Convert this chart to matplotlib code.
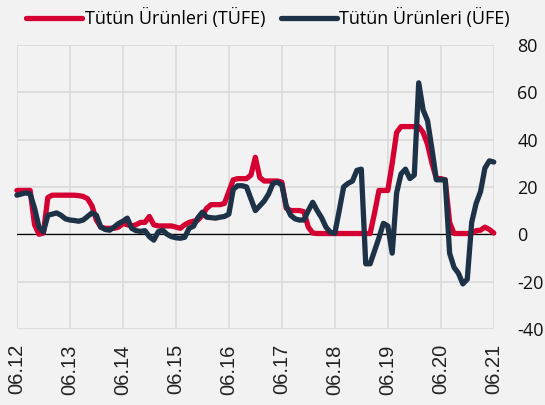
import numpy as np
import pandas as pd
import matplotlib
matplotlib.use('Agg')
import matplotlib.pyplot as plt

# monthly annual change, 06.2012 - 06.2021
tufe = [18.5, 18.5, 18.5, 18.5, 4, 0, 0.5, 15.5, 16.5, 16.5,
        16.5, 16.5, 16.5, 16.5, 16.3, 16, 15, 12, 6, 3,
        2.5, 2.5, 2.5, 3, 4.5, 4, 3.5, 4, 5, 5,
        7.5, 4, 3.5, 3.5, 3.5, 3.5, 3, 2.5, 4, 5,
        5.5, 6, 8, 11, 12.5, 12.5, 12.5, 13, 18, 23,
        23.5, 23.5, 23.5, 25, 32.5, 24, 22.5, 22.5, 22.5, 22.5,
        22, 11, 10, 10, 10, 9.5, 3, 0.5, 0.3, 0.3,
        0.3, 0.3, 0.3, 0.3, 0.3, 0.3, 0.3, 0.3, 0.3, 0.3,
        0.3, 9, 18.5, 18.5, 18.5, 30, 43, 45.5, 45.5, 45.5,
        45.5, 45.5, 43, 38, 30, 23.5, 23.5, 23, 5, 0.3,
        0.3, 0.3, 0.3, 0.3, 1.5, 1.7, 3, 2, 0.5]

ufe = [16.5, 17, 17.5, 17, 11, 3, 1, 8, 8.5, 9,
       8, 6.5, 6, 5.8, 5.5, 6, 7.5, 9, 8, 3,
       2, 1.7, 3, 4.5, 5.5, 6.8, 2.5, 1.5, 1.2, 1.5,
       -1, -2.5, 1, 1.7, 0, -1, -1.5, -1.7, -1.3, 2.5,
       3.4, 7, 9.3, 7.2, 7, 6.8, 7.2, 7.5, 8.5, 19,
       20.5, 20.5, 20, 15, 10, 12, 14, 17, 21.5, 22,
       20.8, 12, 8, 6.5, 6, 6, 10, 13.5, 10, 7,
       3, 0.8, 0.4, 10, 20, 21.5, 22.5, 27, 27.5, -12.5,
       -12.5, -7, -1.5, 4.6, 3.5, -8, 17.5, 25.5, 27.5, 23.5,
       25, 64, 52.5, 48, 36, 23, 23, 23, -8, -14,
       -16.5, -21, -19, 5, 13, 18, 28, 31, 30.5]

tick_labels = ['06.12', '06.13', '06.14', '06.15', '06.16',
               '06.17', '06.18', '06.19', '06.20', '06.21']
y_ticks = [-40, -20, 0, 20, 40, 60, 80]

df = pd.DataFrame({'tufe': tufe, 'ufe': ufe})
bg = '#f2f2f2'

fig = plt.figure(figsize=(5.45, 4.05), dpi=100, facecolor=bg)
ax = fig.add_axes([0.031, 0.188, 0.875, 0.701], facecolor=bg)

ax.plot(df.index, df['tufe'], color='#d50032', lw=3.8, solid_capstyle='round',
        solid_joinstyle='round', label='Tütün Ürünleri (TÜFE)', zorder=3, clip_on=False)
ax.plot(df.index, df['ufe'], color='#1e3247', lw=3.8, solid_capstyle='round',
        solid_joinstyle='round', label='Tütün Ürünleri (ÜFE)', zorder=4, clip_on=False)
ax.axhline(0, color='black', lw=0.9, zorder=2)

ax.set_xlim(0, 108)
ax.set_ylim(-40, 80)
ax.set_xticks(np.arange(0, 109, 12))
ax.set_xticklabels(tick_labels, rotation=90, fontsize=14.5, family='Liberation Sans',
                   color='#222222')
ax.set_yticks(y_ticks)
ax.set_yticklabels([str(v) for v in y_ticks], fontsize=13, family='Open Sans',
                   color='#111111', ha='left')
ax.yaxis.tick_right()
ax.tick_params(axis='y', length=0, pad=17)
ax.tick_params(axis='x', length=0, pad=11)
ax.grid(True, color='#dcdcdc', lw=1.3, zorder=0)
for s in ax.spines.values():
    s.set_visible(False)

fig.legend(loc='upper left', bbox_to_anchor=(0.018, 1.02), ncol=2, frameon=False,
           prop={'family': 'Open Sans', 'size': 13}, handlelength=3.1,
           handletextpad=0.15, columnspacing=0.85)

fig.savefig('out.png', dpi=100, facecolor=bg)
